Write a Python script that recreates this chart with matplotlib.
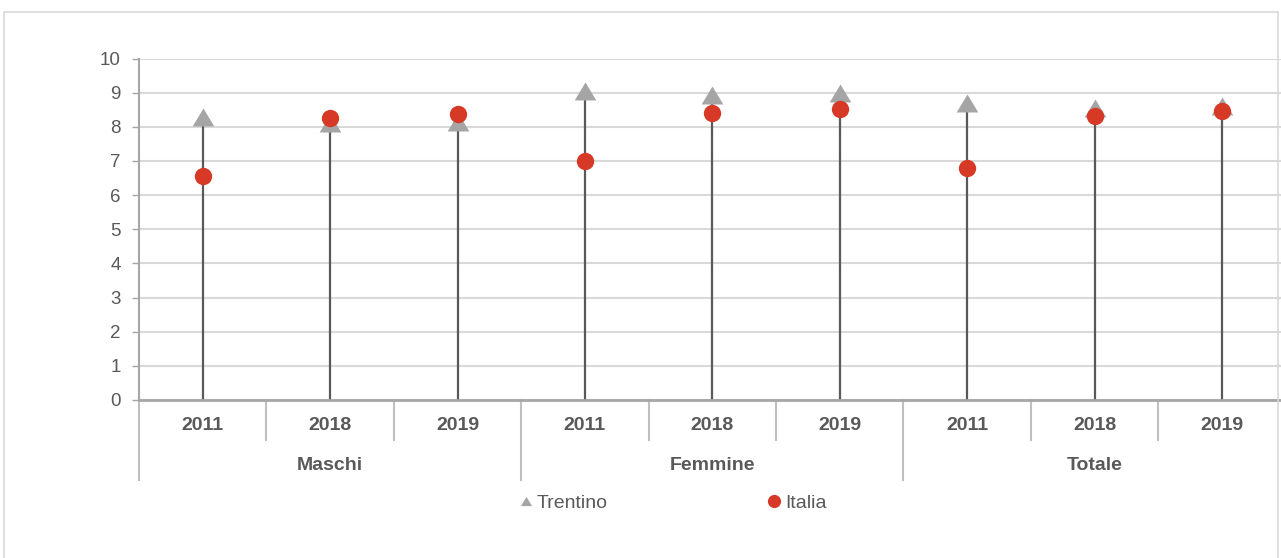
import numpy as np
import matplotlib
matplotlib.use("Agg")
import matplotlib.pyplot as plt
from matplotlib.lines import Line2D
from matplotlib.patches import Rectangle

# data
groups = ["Maschi", "Femmine", "Totale"]
years = ["2011", "2018", "2019"]
trentino = [8.3, 8.1, 8.15, 9.05, 8.93, 9.0, 8.7, 8.55, 8.6]
italia = [6.55, 8.27, 8.37, 7.0, 8.4, 8.53, 6.78, 8.33, 8.45]
yticks = list(range(0, 11))

plt.rcParams['font.family'] = ['Liberation Sans Narrow', 'Liberation Sans', 'DejaVu Sans']

W, H = 1281, 558
fig = plt.figure(figsize=(W / 100, H / 100), dpi=100)

# outer frame (partially outside the picture)
fig.add_artist(Rectangle((4 / W, -0.05), (1278 - 4) / W, (558 - 12) / H + 0.05,
                         transform=fig.transFigure, fill=False,
                         edgecolor="#D9D9D9", lw=1.2))

x0, y0 = 139, 400
unit = 34.15
ncat = len(groups) * len(years)
catw = 127.4
ax = fig.add_axes((x0 / W, (H - y0) / H, ncat * catw / W, 10 * unit / H))
ax.set_xlim(0, ncat)
ax.set_ylim(0, 10)

xs = np.arange(ncat) + 0.5
tr = np.array(trentino)
it = np.array(italia)

ax.set_yticks(yticks)
ax.yaxis.grid(True, color="#D9D9D9", lw=1.5)
ax.set_axisbelow(True)
ax.set_xticks([])
ax.tick_params(axis="y", length=5, width=1, color="#A6A6A6", labelsize=13.5,
               labelcolor="#595959", pad=8)
for s in ["top", "right"]:
    ax.spines[s].set_visible(False)
ax.spines["left"].set_color("#A6A6A6")
ax.spines["left"].set_linewidth(1.5)
ax.spines["bottom"].set_color("#A6A6A6")
ax.spines["bottom"].set_linewidth(2)
ax.spines["bottom"].set_zorder(4)

# stems
ax.vlines(xs, 0, np.maximum(tr, it), color="#595959", lw=1.6, zorder=2)

tri = [(-1, -0.83), (1, -0.83), (0, 0.83)]
ax.plot(xs, tr, linestyle="none", marker=tri, markersize=15.6, color="#A5A5A5",
        markeredgewidth=0, zorder=3)
ax.plot(xs, it, linestyle="none", marker="o", markersize=12.5, color="#D63A26",
        markeredgewidth=0, zorder=4)

# category labels
d = 1 / unit  # one pixel in data units
for i in range(ncat):
    ax.text(xs[i], -26 * d, years[i % len(years)], ha="center", va="center",
            fontsize=14, fontweight="bold", color="#595959")
for g, name in enumerate(groups):
    ax.text(g * len(years) + len(years) / 2, -66 * d, name, ha="center", va="center",
            fontsize=14, fontweight="bold", color="#595959")
for k in range(ncat + 1):
    depth = 80 if k % len(years) == 0 else 40
    ax.plot([k, k], [0, -depth * d], color="#BFBFBF", lw=1.5, clip_on=False)

# legend
handles = [Line2D([], [], linestyle="none", marker=tri, markersize=8, color="#A5A5A5", markeredgewidth=0),
           Line2D([], [], linestyle="none", marker="o", markersize=9.5, color="#D63A26", markeredgewidth=0)]
leg = fig.legend(handles, ["Trentino", "Italia"], loc="center",
                 bbox_to_anchor=(674 / W, (H - 503) / H), ncol=2, frameon=False,
                 fontsize=14, handlelength=0.5, handletextpad=0.3, columnspacing=8.3,
                 borderpad=0)
for t in leg.get_texts():
    t.set_color("#595959")

fig.savefig("out.png", dpi=100)
